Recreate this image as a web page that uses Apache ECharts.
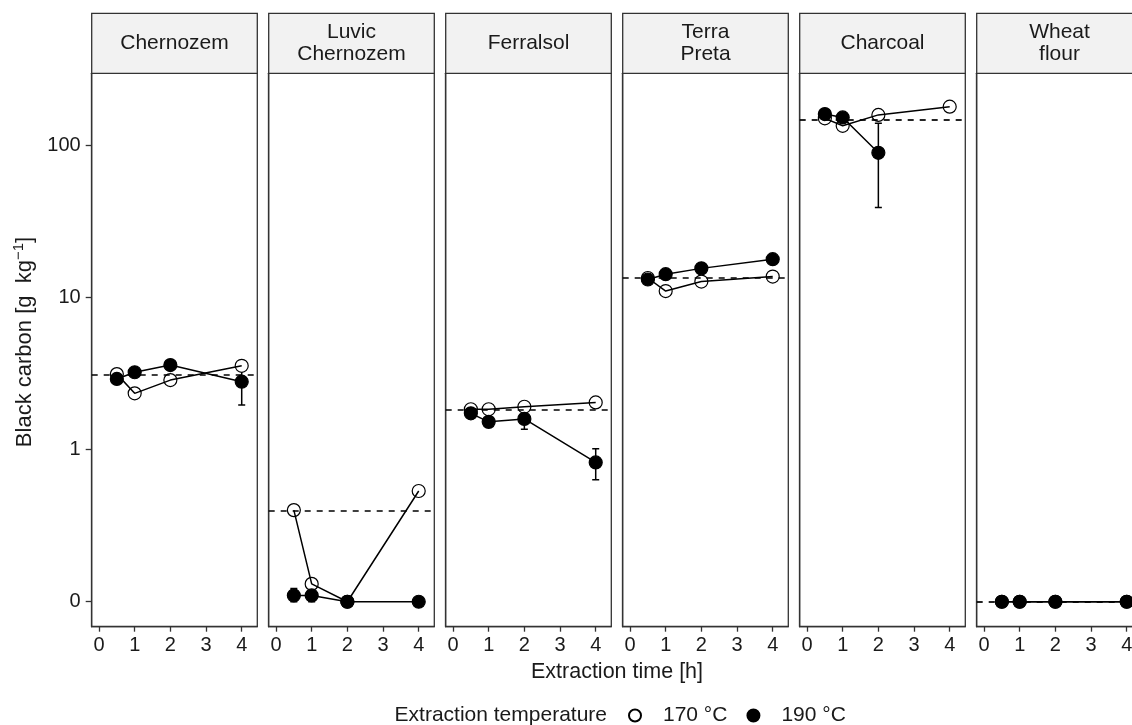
<!DOCTYPE html>
<html>
<head>
<meta charset="utf-8">
<script src="https://cdn.jsdelivr.net/npm/echarts@6/dist/echarts.min.js"></script>
<style>
html,body{margin:0;padding:0;background:#fff;}
#chart{width:1132px;height:725px;}
</style>
</head>
<body>
<div id="chart"></div>
<script>
// ---- data ----
const soils = ['Chernozem', 'Luvic\nChernozem', 'Ferralsol', 'Terra\nPreta', 'Charcoal', 'Wheat\nflour'];
const times = [0.5, 1, 2, 4];
// black carbon [g kg-1] at 170 °C, one row per soil, one value per extraction time
const bc170 = [
  [3.13, 2.34, 2.86, 3.55],
  [0.40, 0.131, 0, 0.534],
  [1.84, 1.84, 1.91, 2.04],
  [13.4, 11.0, 12.7, 13.7],
  [150, 134, 158, 179],
  [0, 0, 0, 0]
];
// black carbon [g kg-1] at 190 °C
const bc190 = [
  [2.91, 3.22, 3.59, 2.79],
  [0.11, 0.11, 0, 0],
  [1.73, 1.52, 1.59, 0.823],
  [13.1, 14.2, 15.5, 17.8],
  [160, 152, 89, null],
  [0, 0, 0, 0]
];
// standard deviations at 190 °C
const sd190 = [
  [0, 0, 0, 0.83],
  [0.012, 0.012, 0, 0],
  [0, 0, 0.23, 0.19],
  [0, 0, 0, 0],
  [0, 0, 50, null],
  [0, 0, 0, 0]
];
// reference black carbon content (dashed line)
const refBC = [3.09, 0.40, 1.82, 13.45, 148, 0];
const xTicks = [0, 1, 2, 3, 4];
const yTickValues = [0, 1, 10, 100];
const yTickLabels = ['0', '1', '10', '100'];
const legendNames = ['170 °C', '190 °C'];

// ---- layout ----
const FONT = "'Liberation Sans', Arial, sans-serif";
const TXT = '#1a1a1a';
const BORDER = '#333333';
const P_LEFT0 = 91.7, P_STEP = 177, P_W = 165.6, P_TOP = 73.3, P_H = 553.4;
const STRIP_TOP = 13.3, STRIP_H = 60;
const X_MIN = -0.205, X_MAX = 4.437;
const Y_MIN = -1.164, Y_MAX = 2.472;

// pseudo-log transform: zero is shown one decade below 1
const tf = v => Math.log10(Math.max(v, 0.1));
const yTickT = yTickValues.map(tf);

const grids = [], xAxes = [], yAxes = [], series = [], graphics = [];

soils.forEach((soil, k) => {
  const left = P_LEFT0 + P_STEP * k;
  grids.push({
    left: left, top: P_TOP, width: P_W, height: P_H,
    show: true, borderColor: BORDER, borderWidth: 1.3, backgroundColor: '#fff',
    containLabel: false, outerBoundsMode: 'none'
  });
  xAxes.push({
    type: 'value', gridIndex: k, min: X_MIN, max: X_MAX, position: 'bottom',
    axisLine: { show: true, onZero: false, lineStyle: { color: BORDER, width: 1.3 } },
    axisTick: { show: true, length: 5, inside: false, customValues: xTicks, lineStyle: { color: BORDER, width: 1.3 } },
    axisLabel: { show: true, customValues: xTicks, margin: 9, fontSize: 20, fontFamily: FONT, color: TXT },
    splitLine: { show: false }
  });
  yAxes.push({
    type: 'value', gridIndex: k, min: Y_MIN, max: Y_MAX, position: 'left',
    axisLine: { show: true, onZero: false, lineStyle: { color: BORDER, width: 1.3 } },
    axisTick: { show: k === 0, length: 6, inside: false, customValues: yTickT, lineStyle: { color: BORDER, width: 1.3 } },
    axisLabel: {
      show: k === 0, customValues: yTickT, margin: 11, fontSize: 20, fontFamily: FONT, color: TXT,
      formatter: (val) => {
        const i = yTickT.findIndex(t => Math.abs(t - val) < 1e-6);
        return i >= 0 ? yTickLabels[i] : '';
      }
    },
    splitLine: { show: false }
  });

  const d170 = times.map((t, i) => bc170[k][i] == null ? null : [t, tf(bc170[k][i])]).filter(d => d);
  const d190 = times.map((t, i) => bc190[k][i] == null ? null : [t, tf(bc190[k][i])]).filter(d => d);
  const err = times.map((t, i) => (bc190[k][i] == null || !sd190[k][i]) ? null :
    [t, tf(bc190[k][i] - sd190[k][i]), tf(bc190[k][i] + sd190[k][i])]).filter(d => d);

  series.push({
    type: 'custom', name: 'err190_' + k, xAxisIndex: k, yAxisIndex: k, silent: true,
    data: err, encode: { x: 0, y: [1, 2] }, clip: true,
    renderItem: (params, api) => {
      const lo = api.coord([api.value(0), api.value(1)]);
      const hi = api.coord([api.value(0), api.value(2)]);
      const hw = 3.5;
      const st = { stroke: '#000', lineWidth: 1.5, fill: null };
      return { type: 'group', children: [
        { type: 'line', shape: { x1: lo[0], y1: lo[1], x2: hi[0], y2: hi[1] }, style: st },
        { type: 'line', shape: { x1: lo[0] - hw, y1: lo[1], x2: lo[0] + hw, y2: lo[1] }, style: st },
        { type: 'line', shape: { x1: hi[0] - hw, y1: hi[1], x2: hi[0] + hw, y2: hi[1] }, style: st }
      ]};
    }
  });
  series.push({
    type: 'line', name: 'line170_' + k, xAxisIndex: k, yAxisIndex: k, data: d170,
    symbol: 'none', silent: true, lineStyle: { color: '#000', width: 1.5 },
    markLine: {
      silent: true, symbol: 'none', label: { show: false },
      lineStyle: { color: '#000', width: 1.7, type: [6, 6] },
      data: [{ yAxis: tf(refBC[k]) }]
    }
  });
  series.push({
    type: 'line', name: 'line190_' + k, xAxisIndex: k, yAxisIndex: k, data: d190,
    symbol: 'none', silent: true, lineStyle: { color: '#000', width: 1.5 }
  });
  series.push({
    type: 'scatter', name: legendNames[0], xAxisIndex: k, yAxisIndex: k, data: d170,
    symbol: 'circle', symbolSize: 13, itemStyle: { color: '#fff', borderColor: '#000', borderWidth: 1.2, opacity: 1 }
  });
  series.push({
    type: 'scatter', name: legendNames[1], xAxisIndex: k, yAxisIndex: k, data: d190,
    symbol: 'circle', symbolSize: 13, itemStyle: { color: '#000', borderColor: '#000', borderWidth: 1.2, opacity: 1 }
  });

  // facet strip
  graphics.push({
    type: 'rect', z: 10,
    shape: { x: left, y: STRIP_TOP, width: P_W, height: STRIP_H },
    style: { fill: '#f2f2f2', stroke: BORDER, lineWidth: 1.3 }
  });
  graphics.push({
    type: 'text', z: 11, x: left + P_W / 2, y: STRIP_TOP + STRIP_H / 2,
    style: { text: soil, fontSize: 21, lineHeight: 22, fontFamily: FONT, fill: TXT, align: 'center', verticalAlign: 'middle' }
  });
});

// axis titles and legend title
graphics.push({
  type: 'text', x: 617, y: 672,
  style: { text: 'Extraction time [h]', fontSize: 21.5, fontFamily: FONT, fill: TXT, align: 'center', verticalAlign: 'middle' }
});
graphics.push({
  type: 'text', x: 25, y: 342, rotation: Math.PI / 2,
  style: {
    text: 'Black carbon [g  kg{sup|−1}]', fontSize: 22, fontFamily: FONT, fill: TXT,
    align: 'center', verticalAlign: 'middle', lineHeight: 28,
    rich: { sup: { fontSize: 15, fontFamily: FONT, fill: TXT, verticalAlign: 'top', lineHeight: 15 } }
  }
});
graphics.push({
  type: 'text', x: 607, y: 715,
  style: { text: 'Extraction temperature', fontSize: 21, fontFamily: FONT, fill: TXT, align: 'right', verticalAlign: 'middle' }
});

const chart = echarts.init(document.getElementById('chart'), null, { renderer: 'canvas' });
chart.setOption({
  animation: false,
  backgroundColor: '#fff',
  grid: grids,
  xAxis: xAxes,
  yAxis: yAxes,
  series: series,
  graphic: graphics,
  legend: {
    data: legendNames.map(n => ({ name: n, icon: 'circle' })),
    left: 623, top: 700, orient: 'horizontal',
    itemWidth: 46, itemHeight: 12, itemGap: 19, selectedMode: false,
    itemStyle: { opacity: 1 },
    textStyle: { fontSize: 21, fontFamily: FONT, color: TXT }
  }
});
</script>
</body>
</html>
